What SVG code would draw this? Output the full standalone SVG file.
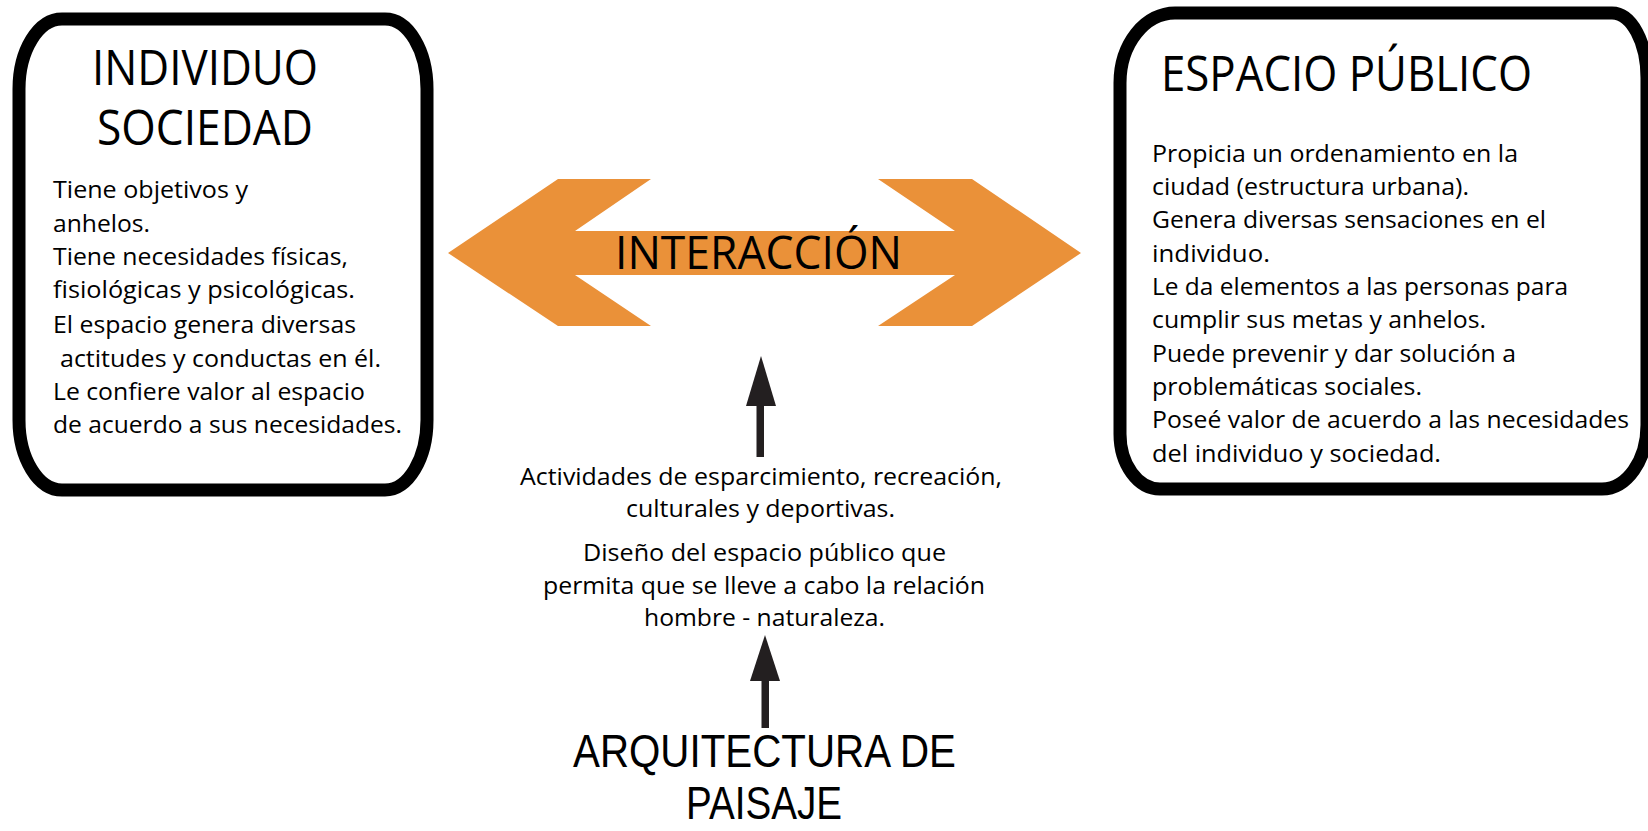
<svg xmlns="http://www.w3.org/2000/svg" width="1648" height="831" viewBox="0 0 1648 831">
<style>
.box{fill:#fff;stroke:#000;stroke-width:13}
.t{font-family:"Open Sans","Noto Sans","Liberation Sans",sans-serif;fill:#000}
.title{font-size:49px}
.body{font-size:24px}
.bottom{font-family:"Liberation Sans",Arial,sans-serif;font-size:46px;fill:#000}
.arr{fill:#231F20}
</style>
<rect width="1648" height="831" fill="#fff"/>
<g id="individuo-sociedad">
<path class="box" d="M 62,19 H 385 A 42 70 0 0 1 427,89 V 420 A 42 70 0 0 1 385,490 H 62 A 43 70 0 0 1 19,420 V 89 A 43 70 0 0 1 62,19 Z"/>
<text class="t title" x="92" y="85" textLength="226" lengthAdjust="spacingAndGlyphs">INDIVIDUO</text>
<text class="t title" x="97" y="145" textLength="216" lengthAdjust="spacingAndGlyphs">SOCIEDAD</text>
<g class="t body">
<text x="53" y="198" textLength="195" lengthAdjust="spacingAndGlyphs">Tiene objetivos y</text>
<text x="53" y="232" textLength="97" lengthAdjust="spacingAndGlyphs">anhelos.</text>
<text x="53" y="265" textLength="295" lengthAdjust="spacingAndGlyphs">Tiene necesidades físicas,</text>
<text x="53" y="298" textLength="302" lengthAdjust="spacingAndGlyphs">fisiológicas y psicológicas.</text>
<text x="53" y="333" textLength="303" lengthAdjust="spacingAndGlyphs">El espacio genera diversas</text>
<text x="60" y="367" textLength="321" lengthAdjust="spacingAndGlyphs">actitudes y conductas en él.</text>
<text x="53" y="400" textLength="312" lengthAdjust="spacingAndGlyphs">Le confiere valor al espacio</text>
<text x="53" y="433" textLength="349" lengthAdjust="spacingAndGlyphs">de acuerdo a sus necesidades.</text>
</g>
</g>
<g id="espacio-publico">
<path class="box" d="M 1175,13 H 1612 A 35 65 0 0 1 1647,78 V 425 A 45 64 0 0 1 1602,489 H 1160 A 40 55 0 0 1 1120,434 V 83 A 55 70 0 0 1 1175,13 Z"/>
<text class="t title" x="1161" y="91" textLength="371" lengthAdjust="spacingAndGlyphs">ESPACIO PÚBLICO</text>
<g class="t body">
<text x="1152" y="162" textLength="366" lengthAdjust="spacingAndGlyphs">Propicia un ordenamiento en la</text>
<text x="1152" y="195" textLength="317" lengthAdjust="spacingAndGlyphs">ciudad (estructura urbana).</text>
<text x="1152" y="228" textLength="394" lengthAdjust="spacingAndGlyphs">Genera diversas sensaciones en el</text>
<text x="1152" y="262" textLength="118" lengthAdjust="spacingAndGlyphs">individuo.</text>
<text x="1152" y="295" textLength="416" lengthAdjust="spacingAndGlyphs">Le da elementos a las personas para</text>
<text x="1152" y="328" textLength="334" lengthAdjust="spacingAndGlyphs">cumplir sus metas y anhelos.</text>
<text x="1152" y="362" textLength="364" lengthAdjust="spacingAndGlyphs">Puede prevenir y dar solución a</text>
<text x="1152" y="395" textLength="270" lengthAdjust="spacingAndGlyphs">problemáticas sociales.</text>
<text x="1152" y="428" textLength="477" lengthAdjust="spacingAndGlyphs">Poseé valor de acuerdo a las necesidades</text>
<text x="1152" y="462" textLength="289" lengthAdjust="spacingAndGlyphs">del individuo y sociedad.</text>
</g>
</g>
<g id="interaccion">
<polygon fill="#EA9139" points="448,253 558,179 651,179 575,231 955,231 878,179 972,179 1081,253 972,326 878,326 955,275 575,275 651,326 558,326"/>
<text class="t" font-size="46" x="615" y="269" textLength="287" lengthAdjust="spacingAndGlyphs">INTERACCIÓN</text>
</g>
<g id="actividades">
<g class="t body">
<text x="520" y="485" textLength="482" lengthAdjust="spacingAndGlyphs">Actividades de esparcimiento, recreación,</text>
<text x="626" y="517" textLength="269" lengthAdjust="spacingAndGlyphs">culturales y deportivas.</text>
<text x="583" y="561" textLength="363" lengthAdjust="spacingAndGlyphs">Diseño del espacio público que</text>
<text x="543" y="594" textLength="442" lengthAdjust="spacingAndGlyphs">permita que se lleve a cabo la relación</text>
<text x="644" y="626" textLength="241" lengthAdjust="spacingAndGlyphs">hombre - naturaleza.</text>
</g>
</g>
<g id="arquitectura-de-paisaje">
<text class="bottom" x="573" y="767" textLength="383" lengthAdjust="spacingAndGlyphs">ARQUITECTURA DE</text>
<text class="bottom" x="686" y="819" textLength="156" lengthAdjust="spacingAndGlyphs">PAISAJE</text>
</g>
<g id="connectors">
<rect class="arr" x="756.5" y="400" width="7.5" height="57"/>
<polygon class="arr" points="746,406 761,356 776,406"/>
<rect class="arr" x="761.5" y="675" width="7.5" height="53"/>
<polygon class="arr" points="750,681 765,635 780,681"/>
</g>
</svg>
